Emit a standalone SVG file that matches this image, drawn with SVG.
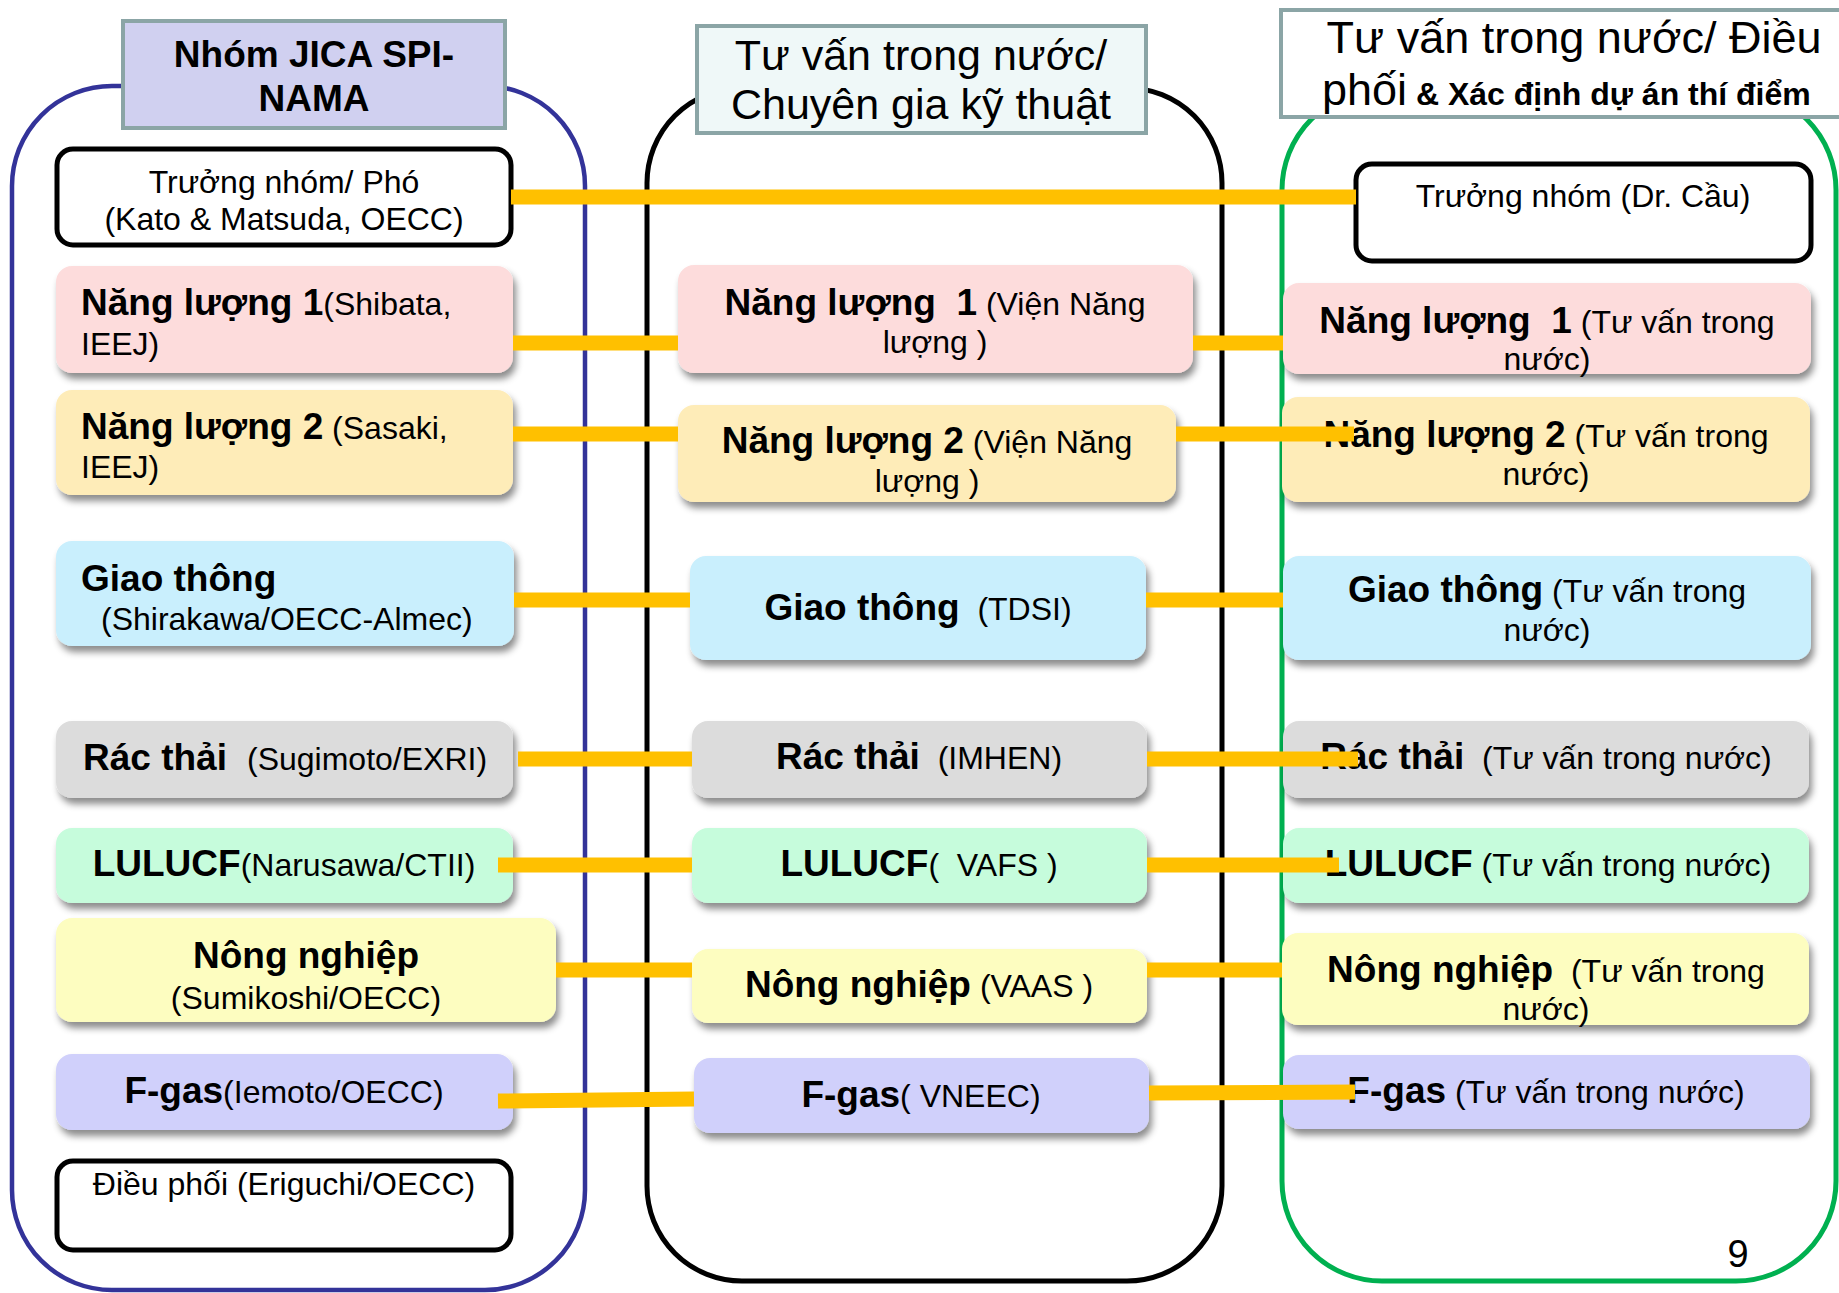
<svg xmlns="http://www.w3.org/2000/svg" width="1839" height="1293" viewBox="0 0 1839 1293">
<defs>
<style>
text{font-family:"Liberation Sans",Arial,sans-serif;fill:#000;font-size:32px}
.b{font-weight:bold;font-size:37px}
.h{font-size:43px}
.h3{font-size:45px}
.hb{font-weight:bold;font-size:37px}
.pn{font-size:38px}
.cont{fill:none}
.hdr{stroke:#8ba5a6;stroke-width:4}
.nd{filter:url(#sh)}
.wb{fill:#fff;stroke:#000;stroke-width:5}
.cn line{stroke:#ffc000;stroke-width:15;stroke-linecap:butt}
</style>
<filter id="sh" x="-5%" y="-15%" width="115%" height="150%">
<feDropShadow dx="3" dy="6" stdDeviation="3.5" flood-color="#000" flood-opacity="0.45"/>
</filter>
</defs>
<rect width="1839" height="1293" fill="#fff"/>

<g id="containers">
<rect id="cont-left" class="cont" x="12" y="86" width="573" height="1204" rx="100" stroke="#333399" stroke-width="4.5"/>
<rect id="cont-mid" class="cont" x="647" y="88" width="575" height="1193" rx="95" stroke="#000" stroke-width="5"/>
<rect id="cont-right" class="cont" x="1282" y="90" width="554" height="1191" rx="100" stroke="#00b050" stroke-width="5"/>
</g>

<g id="n-lead-L"><rect class="wb" x="57" y="149" width="454" height="96" rx="16"/>
<text x="284" y="193" text-anchor="middle">Trưởng nhóm/ Phó</text>
<text x="284" y="230" text-anchor="middle">(Kato &amp; Matsuda, OECC)</text></g>

<g id="n-nl1-L"><rect class="nd" x="56" y="266" width="457" height="107" rx="16" fill="#fddcdc"/>
<text x="81" y="315"><tspan class="b">Năng lượng 1</tspan>(Shibata,</text>
<text x="81" y="355">IEEJ)</text></g>

<g id="n-nl2-L"><rect class="nd" x="56" y="390" width="457" height="105" rx="16" fill="#feecb8"/>
<text x="81" y="439" xml:space="preserve"><tspan class="b">Năng lượng 2</tspan> (Sasaki,</text>
<text x="81" y="478">IEEJ)</text></g>

<g id="n-gt-L"><rect class="nd" x="56" y="541" width="458" height="105" rx="16" fill="#c9effd"/>
<text x="81" y="591" class="b">Giao thông</text>
<text x="101" y="630">(Shirakawa/OECC-Almec)</text></g>

<g id="n-rt-L"><rect class="nd" x="56" y="721" width="457" height="77" rx="16" fill="#dcdcdc"/>
<text x="83" y="770"><tspan class="b">Rác thải</tspan><tspan x="247">(Sugimoto/EXRI)</tspan></text></g>

<g id="n-lu-L"><rect class="nd" x="56" y="828" width="457" height="75" rx="16" fill="#c6fcdc"/>
<text x="284" y="876" text-anchor="middle"><tspan class="b">LULUCF</tspan>(Narusawa/CTII)</text></g>

<g id="n-nn-L"><rect class="nd" x="56" y="918" width="500" height="104" rx="16" fill="#fdfdc0"/>
<text x="306" y="968" text-anchor="middle" class="b">Nông nghiệp</text>
<text x="306" y="1009" text-anchor="middle">(Sumikoshi/OECC)</text></g>

<g id="n-fg-L"><rect class="nd" x="56" y="1054" width="457" height="76" rx="16" fill="#d0d0fb"/>
<text x="284" y="1103" text-anchor="middle"><tspan class="b">F-gas</tspan>(Iemoto/OECC)</text></g>

<g id="n-coord-L"><rect class="wb" x="57" y="1161" width="454" height="89" rx="16"/>
<text x="284" y="1195" text-anchor="middle">Điều phối (Eriguchi/OECC)</text></g>

<g id="n-nl1-M"><rect class="nd" x="678" y="265" width="515" height="108" rx="16" fill="#fddcdc"/>
<text x="935" y="315" text-anchor="middle" xml:space="preserve"><tspan class="b">Năng lượng  1</tspan> (Viện Năng</text>
<text x="935" y="353" text-anchor="middle">lượng )</text></g>

<g id="n-nl2-M"><rect class="nd" x="678" y="405" width="498" height="97" rx="16" fill="#feecb8"/>
<text x="927" y="453" text-anchor="middle" xml:space="preserve"><tspan class="b">Năng lượng 2</tspan> (Viện Năng</text>
<text x="927" y="492" text-anchor="middle">lượng )</text></g>

<g id="n-gt-M"><rect class="nd" x="690" y="556" width="456" height="104" rx="16" fill="#c9effd"/>
<text x="918" y="620" text-anchor="middle" xml:space="preserve"><tspan class="b">Giao thông</tspan>  (TDSI)</text></g>

<g id="n-rt-M"><rect class="nd" x="692" y="721" width="455" height="77" rx="16" fill="#dcdcdc"/>
<text x="919" y="769" text-anchor="middle" xml:space="preserve"><tspan class="b">Rác thải</tspan>  (IMHEN)</text></g>

<g id="n-lu-M"><rect class="nd" x="692" y="828" width="455" height="75" rx="16" fill="#c6fcdc"/>
<text x="919" y="876" text-anchor="middle" xml:space="preserve"><tspan class="b">LULUCF</tspan>(  VAFS )</text></g>

<g id="n-nn-M"><rect class="nd" x="692" y="949" width="455" height="74" rx="16" fill="#fdfdc0"/>
<text x="919" y="997" text-anchor="middle" xml:space="preserve"><tspan class="b">Nông nghiệp</tspan> (VAAS )</text></g>

<g id="n-fg-M"><rect class="nd" x="694" y="1058" width="455" height="75" rx="16" fill="#d0d0fb"/>
<text x="921" y="1107" text-anchor="middle" xml:space="preserve"><tspan class="b">F-gas</tspan>( VNEEC)</text></g>

<g id="n-lead-R"><rect class="wb" x="1356" y="164" width="455" height="97" rx="16"/>
<text x="1583" y="207" text-anchor="middle">Trưởng nhóm (Dr. Cầu)</text></g>

<g id="n-nl1-R"><rect class="nd" x="1283" y="283" width="528" height="91" rx="16" fill="#fddcdc"/>
<text x="1547" y="333" text-anchor="middle" xml:space="preserve"><tspan class="b">Năng lượng  1</tspan> (Tư vấn trong</text>
<text x="1547" y="370" text-anchor="middle">nước)</text></g>

<g id="n-nl2-R"><rect class="nd" x="1282" y="397" width="528" height="105" rx="16" fill="#feecb8"/>
<text x="1546" y="447" text-anchor="middle" xml:space="preserve"><tspan class="b">Năng lượng 2</tspan> (Tư vấn trong</text>
<text x="1546" y="485" text-anchor="middle">nước)</text></g>

<g id="n-gt-R"><rect class="nd" x="1283" y="556" width="528" height="104" rx="16" fill="#c9effd"/>
<text x="1547" y="602" text-anchor="middle" xml:space="preserve"><tspan class="b">Giao thông</tspan> (Tư vấn trong</text>
<text x="1547" y="641" text-anchor="middle">nước)</text></g>

<g id="n-rt-R"><rect class="nd" x="1283" y="721" width="526" height="77" rx="16" fill="#dcdcdc"/>
<text x="1546" y="769" text-anchor="middle" xml:space="preserve"><tspan class="b">Rác thải</tspan>  (Tư vấn trong nước)</text></g>

<g id="n-lu-R"><rect class="nd" x="1283" y="828" width="526" height="75" rx="16" fill="#c6fcdc"/>
<text x="1548" y="876" text-anchor="middle" xml:space="preserve"><tspan class="b">LULUCF</tspan> (Tư vấn trong nước)</text></g>

<g id="n-nn-R"><rect class="nd" x="1282" y="933" width="527" height="92" rx="16" fill="#fdfdc0"/>
<text x="1546" y="982" text-anchor="middle" xml:space="preserve"><tspan class="b">Nông nghiệp</tspan>  (Tư vấn trong</text>
<text x="1546" y="1020" text-anchor="middle">nước)</text></g>

<g id="n-fg-R"><rect class="nd" x="1283" y="1055" width="527" height="74" rx="16" fill="#d0d0fb"/>
<text x="1546" y="1103" text-anchor="middle" xml:space="preserve"><tspan class="b">F-gas</tspan> (Tư vấn trong nước)</text></g>

<g id="connectors" class="cn">
<line x1="511" y1="197" x2="1356" y2="197"/>
<line x1="513" y1="343" x2="678" y2="343"/>
<line x1="1193" y1="343" x2="1283" y2="343"/>
<line x1="513" y1="434" x2="678" y2="434"/>
<line x1="1176" y1="434" x2="1354" y2="434"/>
<line x1="514" y1="600" x2="690" y2="600"/>
<line x1="1146" y1="600" x2="1283" y2="600"/>
<line x1="518" y1="759" x2="692" y2="759"/>
<line x1="1147" y1="759" x2="1358" y2="759"/>
<line x1="498" y1="865" x2="692" y2="865"/>
<line x1="1147" y1="865" x2="1339" y2="865"/>
<line x1="556" y1="970" x2="692" y2="970"/>
<line x1="1147" y1="970" x2="1282" y2="970"/>
<line x1="498" y1="1101" x2="694" y2="1099"/>
<line x1="1149" y1="1093" x2="1355" y2="1092"/>
</g>

<g id="hdr-jica"><rect class="hdr" x="123" y="21" width="382" height="107" fill="#d0d0f0"/>
<text x="314" y="67" text-anchor="middle" class="hb">Nhóm JICA SPI-</text>
<text x="314" y="111" text-anchor="middle" class="hb">NAMA</text></g>

<g id="hdr-mid"><rect class="hdr" x="697" y="26" width="449" height="107" fill="#eff8f8"/>
<text x="921" y="70" text-anchor="middle" class="h">Tư vấn trong nước/</text>
<text x="921" y="119" text-anchor="middle" class="h">Chuyên gia kỹ thuật</text></g>

<g id="hdr-right"><rect class="hdr" x="1281" y="10" width="600" height="107" fill="#fff"/>
<text x="1574" y="53" text-anchor="middle" class="h3">Tư vấn trong nước/ Điều</text>
<text x="1322" y="105" xml:space="preserve"><tspan class="h3">phối</tspan><tspan font-weight="bold" font-size="32"> &amp; Xác định dự án thí điểm</tspan></text></g>

<text id="page-num" x="1738" y="1267" text-anchor="middle" class="pn">9</text>
</svg>
